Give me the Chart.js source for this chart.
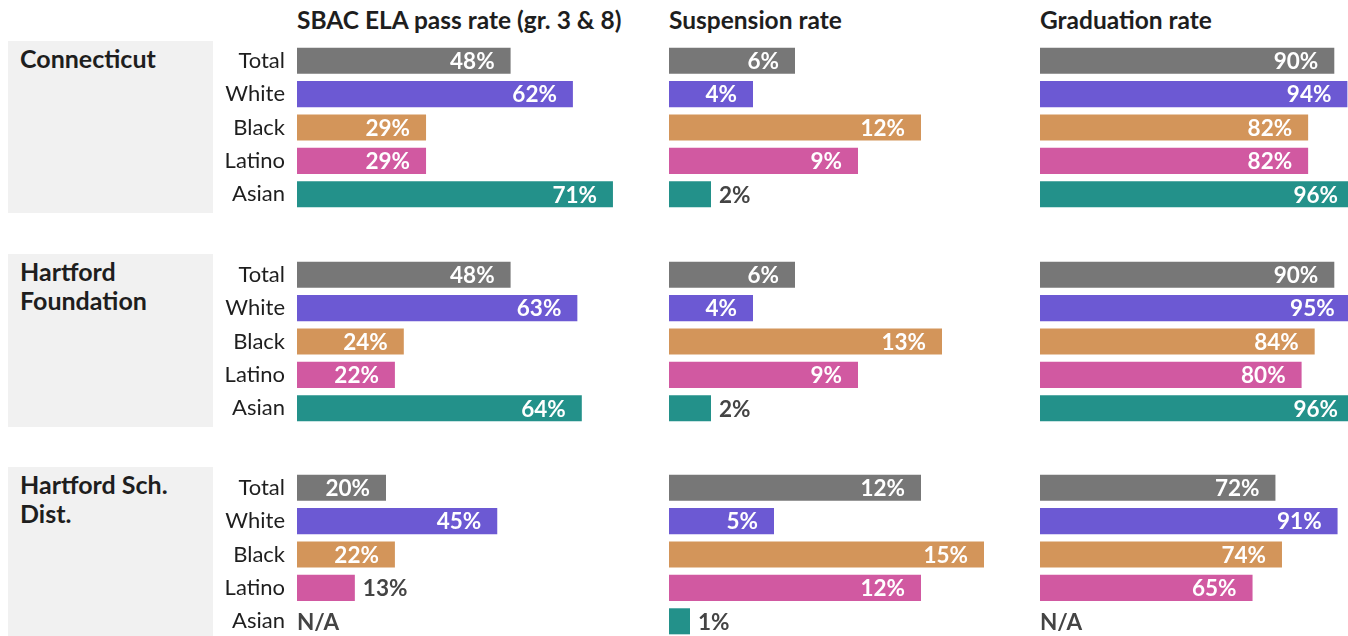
<!DOCTYPE html>
<html>
<head>
<meta charset="utf-8">
<script src="https://cdn.jsdelivr.net/npm/chart.js@4.4.1/dist/chart.umd.min.js"></script>
<style>
  html, body { margin: 0; padding: 0; background: #fff; overflow: hidden; }
  body { width: 1348px; height: 636px; position: relative; font-family: Lato, "Noto Sans", sans-serif; color: #1e1e1e; }
  .box { position: absolute; left: 8px; width: 205px; background: #f1f1f1; }
  .box span { position: absolute; left: 12px; top: 3px; font-size: 25px; font-weight: 700; line-height: 29px; }
  .title { position: absolute; top: 5px; font-size: 24.5px; font-weight: 700; white-space: nowrap; }
  canvas { position: absolute; }
</style>
</head>
<body>
<script>
// categories and groups
const categories = ['Total', 'White', 'Black', 'Latino', 'Asian'];
const groups = ['Connecticut', 'Hartford<br>Foundation', 'Hartford Sch.<br>Dist.'];
const metricTitles = ['SBAC ELA pass rate (gr. 3 & 8)', 'Suspension rate', 'Graduation rate'];

// values per group (Connecticut, Hartford Foundation, Hartford Sch. Dist.)
const elaRates = [[48, 62, 29, 29, 71], [48, 63, 24, 22, 64], [20, 45, 22, 13, null]];
const suspensionRates = [[6, 4, 12, 9, 2], [6, 4, 13, 9, 2], [12, 5, 15, 12, 1]];
const graduationRates = [[90, 94, 82, 82, 96], [90, 95, 84, 80, 96], [72, 91, 74, 65, null]];

const barColors = ['#777777', '#6c59d3', '#d3955a', '#d159a1', '#23918a'];

const metrics = [elaRates, suspensionRates, graduationRates];
const axisMax = [80, 16, 100];
const colLeft = [297, 669, 1040];
const colWidth = [356, 336, 327];
const groupTop = [44, 257.5, 471];
const chartHeight = 167;
const boxTop = [41, 254, 467];
const boxHeight = [172, 173, 175];
const labelFont = 'bold 22.5px Lato, "Noto Sans", sans-serif';

// boxes and titles
groups.forEach((g, i) => {
  const d = document.createElement('div');
  d.className = 'box';
  d.style.top = boxTop[i] + 'px';
  d.style.height = boxHeight[i] + 'px';
  d.innerHTML = '<span>' + g + '</span>';
  document.body.appendChild(d);
});
metricTitles.forEach((t, i) => {
  const d = document.createElement('div');
  d.className = 'title';
  d.style.left = colLeft[i] + 'px';
  d.textContent = t;
  document.body.appendChild(d);
});

// value labels: inside the bar end when they fit, else just after it
const valueLabels = {
  id: 'valueLabels',
  afterDatasetsDraw(chart) {
    const ctx = chart.ctx;
    const xs = chart.scales.x, ys = chart.scales.y;
    const data = chart.data.datasets[0].data;
    ctx.save();
    ctx.font = labelFont;
    ctx.textBaseline = 'middle';
    data.forEach((v, i) => {
      const y = ys.getPixelForValue(i) + 1;
      const x0 = xs.getPixelForValue(0);
      if (v === null) {
        ctx.fillStyle = '#444';
        ctx.textAlign = 'left';
        ctx.fillText('N/A', x0, y);
        return;
      }
      const txt = v + '%';
      const x1 = xs.getPixelForValue(v);
      const w = ctx.measureText(txt).width;
      if (x1 - x0 > w + 22) {
        ctx.fillStyle = '#fff';
        ctx.textAlign = 'right';
        ctx.fillText(txt, x1 - 16, y);
      } else {
        ctx.fillStyle = '#444';
        ctx.textAlign = 'left';
        ctx.fillText(txt, x1 + 8, y);
      }
    });
    ctx.restore();
  }
};

metrics.forEach((rows, m) => {
  rows.forEach((vals, g) => {
    const first = m === 0;
    const canvas = document.createElement('canvas');
    const yAxisW = first ? 84 : 0;
    canvas.width = colWidth[m] + yAxisW;
    canvas.height = chartHeight;
    canvas.style.left = (colLeft[m] - yAxisW) + 'px';
    canvas.style.top = groupTop[g] + 'px';
    document.body.appendChild(canvas);

    new Chart(canvas, {
      type: 'bar',
      data: {
        labels: categories,
        datasets: [{
          data: vals,
          backgroundColor: barColors,
          borderWidth: 0,
          barPercentage: 0.78,
          categoryPercentage: 1
        }]
      },
      options: {
        indexAxis: 'y',
        responsive: false,
        animation: false,
        layout: { padding: 0 },
        plugins: { legend: { display: false }, tooltip: { enabled: false } },
        scales: {
          x: { display: false, min: 0, max: axisMax[m] },
          y: {
            display: first,
            grid: { display: false, drawTicks: false },
            border: { display: false },
            ticks: { color: '#1e1e1e', padding: 12, font: { family: 'Lato, "Noto Sans", sans-serif', size: 22 } },
            afterFit: s => {
              s.width = yAxisW;
              s.paddingTop = 0;
              s.paddingBottom = 0;
            }
          }
        }
      },
      plugins: [valueLabels]
    });
  });
});
</script>
</body>
</html>
